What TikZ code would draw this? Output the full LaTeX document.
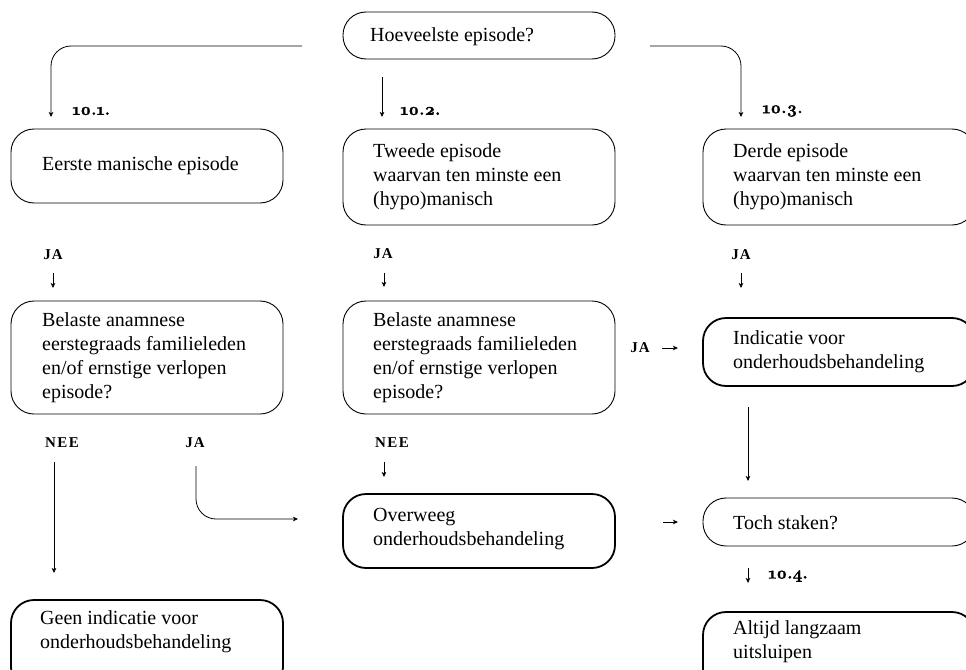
\documentclass[tikz,border=0pt]{standalone}
\usepackage{fontspec}
\setmainfont{Liberation Serif}
\newfontfamily\numfont[Numbers=OldStyle, BoldFeatures={FakeBold=1.6}]{Latin Modern Roman}
\usetikzlibrary{arrows.meta}

\tikzset{
  box/.style={draw, line width=0.9pt, rounded corners=23pt, inner sep=0pt, minimum width=272pt},
  heavy/.style={line width=1.8pt},
  txt/.style={anchor=west, align=left, inner sep=0pt, font=\fontsize{20}{24}\selectfont},
  tag/.style={inner sep=0pt, font=\bfseries\fontsize{15}{15}\selectfont},
  num/.style={anchor=west, inner sep=0pt, font=\numfont\bfseries\fontsize{17}{17}\selectfont},
  link/.style={line width=0.8pt, -{Stealth[length=5pt,width=4.5pt,inset=1.2pt]}},
  bendlink/.style={link, rounded corners=20pt},
}

\begin{document}
\begin{tikzpicture}[x=1pt,y=-1pt]
\useasboundingbox (0,0) rectangle (966,669);
\clip (0,0) rectangle (966,669);

% frames
\node[box, minimum height=47pt]         (q)    at (479,35.5)  {};
\node[box, minimum height=74pt]         (e1)   at (147,166)   {};
\node[box, minimum height=96pt]         (e2)   at (479,177)   {};
\node[box, minimum height=96pt]         (e3)   at (839,177)   {};
\node[box, minimum height=113pt]        (b1)   at (147,357.5) {};
\node[box, minimum height=113pt]        (b2)   at (479,357.5) {};
\node[box, heavy, minimum height=68pt]  (ind)  at (839,352)   {};
\node[box, heavy, minimum height=74pt]  (ov)   at (479,531)   {};
\node[box, minimum height=48pt]         (toch) at (839,522)   {};
\node[box, heavy, minimum height=90pt]  (geen) at (147,645)   {};
\node[box, heavy, minimum height=88pt]  (alt)  at (839,656)   {};

% texts inside the frames
\node[txt] (tq)    at (370,37)    {Hoeveelste episode?};
\node[txt] (te1)   at (42,166)    {Eerste manische episode};
\node[txt] (te2)   at (373,177)   {Tweede episode\\waarvan ten minste een\\(hypo)manisch};
\node[txt] (te3)   at (733,177)   {Derde episode\\waarvan ten minste een\\(hypo)manisch};
\node[txt] (tb1)   at (42,358)    {Belaste anamnese\\eerstegraads familieleden\\en/of ernstige verlopen\\episode?};
\node[txt] (tb2)   at (373,358)   {Belaste anamnese\\eerstegraads familieleden\\en/of ernstige verlopen\\episode?};
\node[txt] (tind)  at (733,352)   {Indicatie voor\\onderhoudsbehandeling};
\node[txt] (tov)   at (373,529)   {Overweeg\\onderhoudsbehandeling};
\node[txt] (ttoch) at (733,523)   {Toch staken?};
\node[txt] (tgeen) at (40,632)    {Geen indicatie voor\\onderhoudsbehandeling};
\node[txt] (talt)  at (733,641.5) {Altijd langzaam\\uitsluipen};

% section numbers
\node[num] (n1) at (72,111)  {10.1.};
\node[num] (n2) at (400,111) {10.2.};
\node[num] (n3) at (762,111) {10.3.};
\node[num] (n4) at (768,576) {10.4.};

% answer tags
\node[tag] (ja1)  at (53,255)  {J\kern1pt A};
\node[tag] (ja2)  at (383,254) {J\kern1pt A};
\node[tag] (ja3)  at (741,255) {J\kern1pt A};
\node[tag] (ja4)  at (640,348) {J\kern1pt A};
\node[tag] (nee1) at (62,443)  {N\kern1.5pt E\kern1.5pt E};
\node[tag] (ja5)  at (195,443) {J\kern1pt A};
\node[tag] (nee2) at (392,443) {N\kern1.5pt E\kern1.5pt E};

% connector end points
\coordinate (qL)  at (302,46);   \coordinate (qLe) at (51,117);
\coordinate (qM)  at (382,77);   \coordinate (qMe) at (382,117);
\coordinate (qR)  at (650,46);   \coordinate (qRe) at (741,117);
\coordinate (j1s) at (53,273);   \coordinate (j1e) at (53,288);
\coordinate (j2s) at (384,273);  \coordinate (j2e) at (384,287);
\coordinate (j3s) at (741,273);  \coordinate (j3e) at (741,288);
\coordinate (j4s) at (662,348);  \coordinate (j4e) at (678,348);
\coordinate (n1s) at (54,462);   \coordinate (n1e) at (54,573);
\coordinate (j5s) at (196,466);  \coordinate (j5e) at (298,519);
\coordinate (n2s) at (384,462);  \coordinate (n2e) at (384,477);
\coordinate (is)  at (748,407);  \coordinate (ie)  at (748,481);
\coordinate (os)  at (663,522);  \coordinate (oe)  at (678,522);
\coordinate (ts)  at (748,568);  \coordinate (te)  at (748,583);

% connectors
\draw[bendlink] (qL) -| (qLe);
\draw[link]     (qM) -- (qMe);
\draw[bendlink] (qR) -| (qRe);
\draw[link] (j1s) -- (j1e);
\draw[link] (j2s) -- (j2e);
\draw[link] (j3s) -- (j3e);
\draw[link] (j4s) -- (j4e);
\draw[link] (n1s) -- (n1e);
\draw[bendlink] (j5s) |- (j5e);
\draw[link] (n2s) -- (n2e);
\draw[link] (is) -- (ie);
\draw[link] (os) -- (oe);
\draw[link] (ts) -- (te);
\end{tikzpicture}
\end{document}
